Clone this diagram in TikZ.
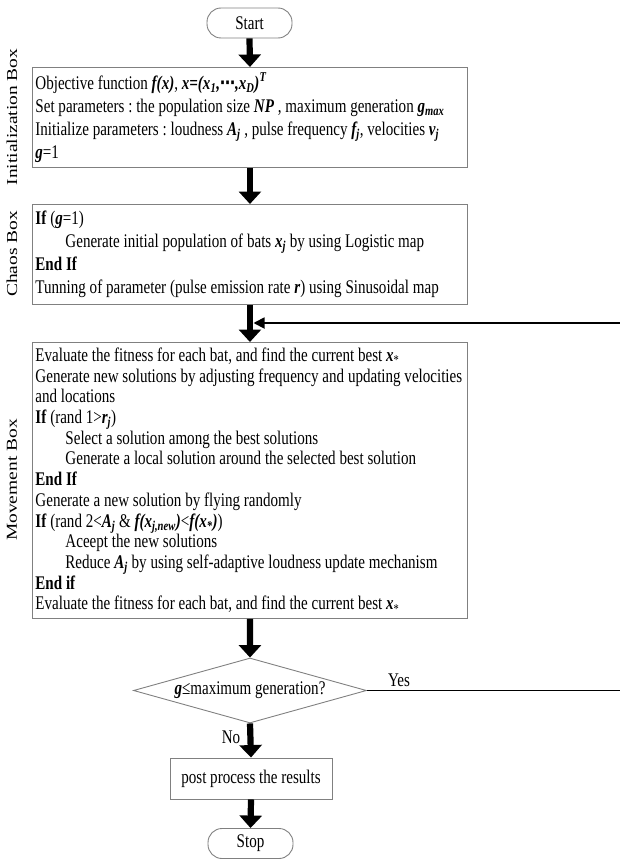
\documentclass[tikz,border=0pt]{standalone}
\usepackage{fontspec}
\setmainfont[FakeStretch=0.78]{Liberation Serif}
\newfontfamily\dvfont[FakeStretch=0.78]{DejaVu Sans}
\newfontfamily\lblfont[FakeStretch=1.28]{Liberation Serif}
\usetikzlibrary{arrows.meta,shapes.geometric}
\definecolor{boxgray}{RGB}{128,128,128}
\newcommand{\bi}[1]{\textbf{\textit{#1}}}
\newcommand{\ind}{\hspace*{30pt}}
\newcommand{\sps}{\spaceskip=3.8pt plus 1pt minus 0.5pt\xspaceskip=3.8pt\relax}
\newcommand{\mainsize}[1]{\fontsize{19.3}{#1}\selectfont}
\newcommand{\lblsize}{\lblfont\fontsize{15.2}{18}\selectfont}
\tikzset{
  every node/.style={font=\mainsize{23}},
  pbox/.style={draw=boxgray, line width=0.9pt, rectangle, inner xsep=3pt, inner ysep=0pt,
    text width=429pt, align=left, anchor=north west},
  term/.style={draw=boxgray, line width=0.9pt, rectangle, rounded corners=14pt,
    minimum width=85pt, minimum height=30pt, inner sep=0pt},
  plain/.style={draw=boxgray, line width=0.9pt, rectangle, minimum width=162pt,
    minimum height=41pt, inner sep=0pt},
  decis/.style={draw=boxgray, line width=0.9pt, diamond, aspect=3.58,
    minimum width=233pt, minimum height=65pt, inner sep=0pt},
  sidelbl/.style={rotate=90, font=\lblsize},
  bigarrow/.style={line width=6.2pt, -{Triangle[width=22pt,length=12.5pt]}},
  thinarrow/.style={line width=1.8pt, -{Triangle[width=11pt,length=11pt]}},
  yesline/.style={line width=1.8pt}
}
\begin{document}
\begin{tikzpicture}[x=1pt,y=-1pt]
\useasboundingbox (0,0) rectangle (619,859);

\node[term] (start) at (249.5,23) {Start};

\node[pbox, minimum height=100pt] (init) at (32,67) {\sps
\mbox{Objective function \bi{f(x)}, \bi{x=(x\textsubscript{1},{\dvfont ⋯},x\textsubscript{D})\textsuperscript{T}}}\\
\mbox{Set parameters : the population size \bi{NP} , maximum generation \bi{g\textsubscript{max}}}\\
\mbox{Initialize parameters : loudness \bi{A\textsubscript{j}} , pulse frequency \bi{f\textsubscript{j}}, velocities \bi{v\textsubscript{j}}}\\
\bi{g}=1};

\node[pbox, minimum height=100pt] (chaos) at (32,204) {\sps
\textbf{If} (\bi{g}=1)\\
\mbox{\ind Generate initial population of bats \bi{x\textsubscript{j}} by using Logistic map}\\
\textbf{End If}\\
\mbox{Tunning of parameter (pulse emission rate \bi{r}) using Sinusoidal map}};

\node[pbox, minimum height=276pt, font=\mainsize{20.7}] (move) at (32,342) {\sps
\mbox{Evaluate the fitness for each bat, and find the current best \bi{x}\textsubscript{*}}\\
\mbox{Generate new solutions by adjusting frequency and updating velocities}\\
and locations\\
\textbf{If} (rand 1>\bi{r\textsubscript{j}})\\
\mbox{\ind Select a solution among the best solutions}\\
\mbox{\ind Generate a local solution around the selected best solution}\\
\textbf{End If}\\
\mbox{Generate a new solution by flying randomly}\\
\mbox{\textbf{If} (rand 2<\bi{A\textsubscript{j}} \& \bi{f(x\textsubscript{j,new})}<\bi{f(x\textsubscript{*})})}\\
\mbox{\ind Aceept the new solutions}\\
\mbox{\ind Reduce \bi{A\textsubscript{j}} by using self-adaptive loudness update mechanism}\\
\textbf{End if}\\
\mbox{Evaluate the fitness for each bat, and find the current best \bi{x}\textsubscript{*}}};

\node[sidelbl] (lbl1) at (12,117) {Initialization Box};
\node[sidelbl] (lbl2) at (12,254) {Chaos Box};
\node[sidelbl] (lbl3) at (12,480) {Movement Box};

\node[decis] (dec) at (250,690.5) {\bi{g}≤maximum generation?};
\node[plain] (post) at (251,778.5) {post process the results};
\node[term] (stop) at (250.5,843.5) {Stop};

\node (yes) at (399,680) {Yes};
\node (no) at (231,737) {No};

\coordinate (join) at (253.5,323);
\coordinate (far) at (628,690.5);

\draw[bigarrow] (start.south) -- (init.north);
\draw[bigarrow] (init.south) -- (chaos.north);
\draw[bigarrow] (chaos.south) -- (move.north);
\draw[bigarrow] (move.south) -- (dec.north);
\draw[bigarrow] (dec.south) -- (post.north);
\draw[bigarrow] (post.south) -- (stop.north);

\draw[yesline] (dec.east) -- (far) |- ([xshift=-4pt]far |- join);
\draw[thinarrow] ([xshift=-4pt]far |- join) -- (join);
\end{tikzpicture}
\end{document}
